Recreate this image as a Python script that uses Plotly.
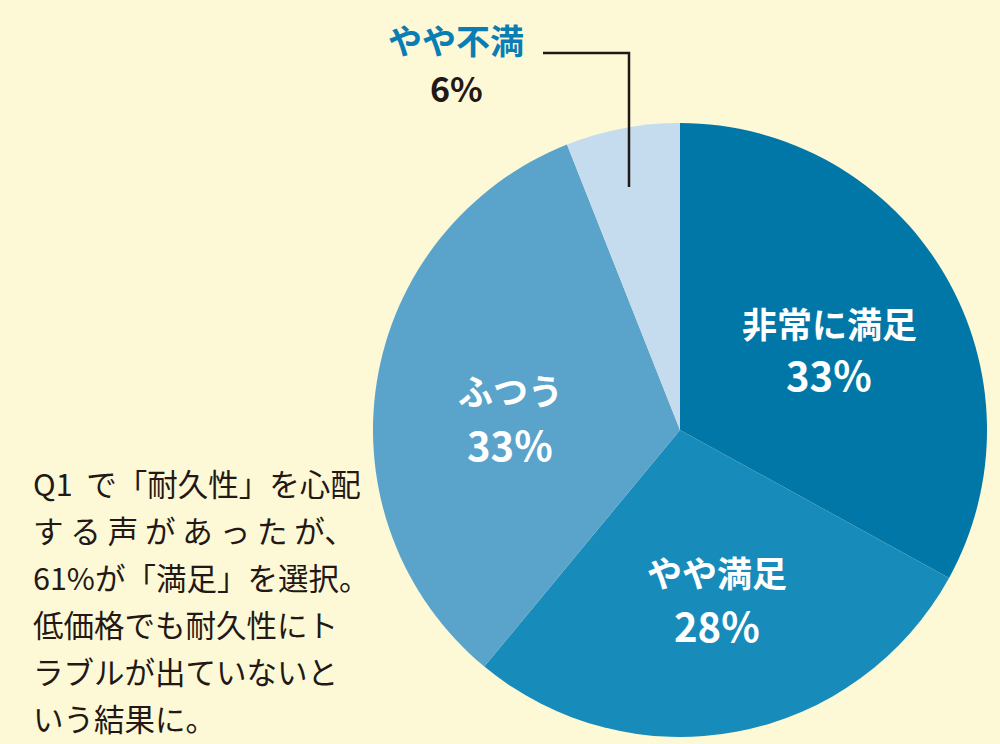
import plotly.graph_objects as go

W, H = 1000, 744

categories = ["非常に満足", "やや満足", "ふつう", "やや不満"]
values = [33, 28, 33, 6]
pct_labels = ["33%", "28%", "33%", "6%"]
colors = ["#0077a7", "#178cbb", "#5aa3ca", "#c5dcee"]

note_lines = [
    "Q1  で「耐久性」を心配",
    "す る 声 が あ っ た が、",
    "61%が「満足」を選択。",
    "低価格でも耐久性にト",
    "ラブルが出ていないと",
    "いう結果に。",
]

cx, cy, r = 680, 430, 307

def px(x):
    return x / W

def py(y):
    return 1 - y / H

fig = go.Figure(go.Pie(
    labels=categories,
    values=values,
    sort=False,
    direction="clockwise",
    rotation=0,
    marker=dict(colors=colors, line=dict(width=0)),
    textinfo="none",
    hoverinfo="label+percent",
    showlegend=False,
    domain=dict(x=[px(cx - r), px(cx + r)], y=[py(cy + r), py(cy - r)]),
))

jp = "Noto Sans CJK JP"
ann = []
label_pos = [(829, 323, 374), (717, 571, 625), (510, 389, 444), (456, 40, 87)]
for i, (x, yl, yp) in enumerate(label_pos):
    if i == 3:
        lc, pc = "#0a7db4", "#231815"
        lsize, psize = 34, 34
    else:
        lc, pc = "white", "white"
        lsize, psize = 35, 40
    ann.append(dict(x=px(x), y=py(yl), xref="paper", yref="paper", showarrow=False,
                    text="<b>%s</b>" % categories[i], font=dict(family=jp, size=lsize, color=lc),
                    xanchor="center", yanchor="middle"))
    ann.append(dict(x=px(x), y=py(yp), xref="paper", yref="paper", showarrow=False,
                    text="<b>%s</b>" % pct_labels[i], font=dict(family=jp, size=psize, color=pc),
                    xanchor="center", yanchor="middle"))

for k, line in enumerate(note_lines):
    ann.append(dict(x=px(31), y=py(483 + k * 47), xref="paper", yref="paper", showarrow=False,
                    text=line, font=dict(family=jp, size=30.5, color="#231815"),
                    xanchor="left", yanchor="middle"))

fig.update_layout(
    width=W, height=H,
    margin=dict(l=0, r=0, t=0, b=0),
    paper_bgcolor="#fdf9d6",
    plot_bgcolor="#fdf9d6",
    annotations=ann,
    shapes=[dict(type="path", xref="paper", yref="paper",
                 path="M %f %f L %f %f L %f %f" % (px(543), py(53), px(629), py(53), px(629), py(187)),
                 line=dict(color="#231815", width=2.5))],
)

fig.write_html("out.html")
